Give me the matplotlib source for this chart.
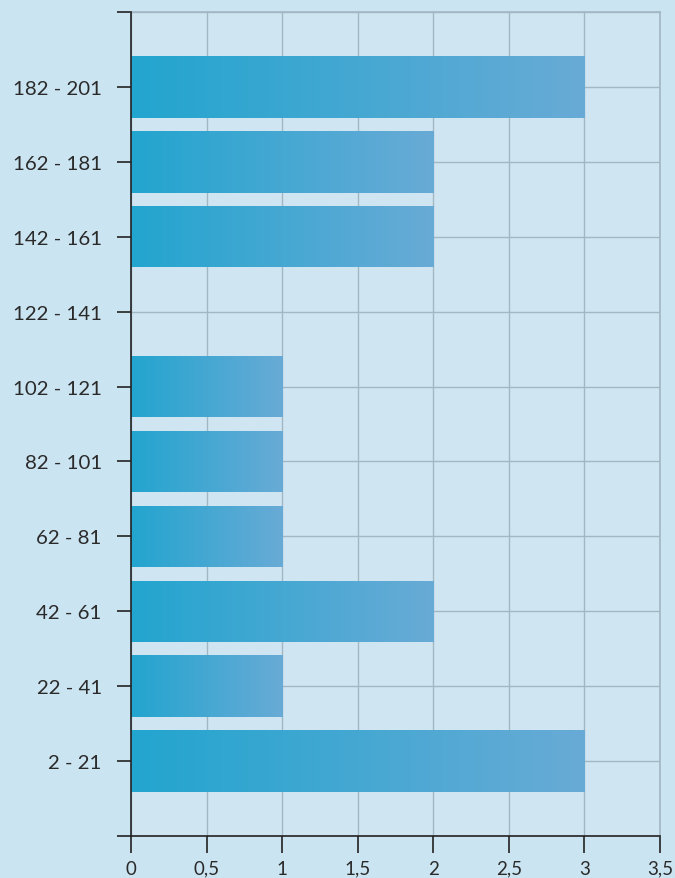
import matplotlib
matplotlib.use("Agg")
import matplotlib.pyplot as plt
import numpy as np
from matplotlib.colors import LinearSegmentedColormap

categories = ["2 - 21", "22 - 41", "42 - 61", "62 - 81", "82 - 101",
              "102 - 121", "122 - 141", "142 - 161", "162 - 181", "182 - 201"]
values = [3, 1, 2, 1, 1, 1, 0, 2, 2, 3]
xticks = [0, 0.5, 1, 1.5, 2, 2.5, 3, 3.5]
xticklabels = ["0", "0,5", "1", "1,5", "2", "2,5", "3", "3,5"]

plt.rcParams['font.family'] = ['Lato', 'DejaVu Sans']

fig = plt.figure(figsize=(6.75, 8.79), dpi=100)
fig.patch.set_facecolor('#cbe4f1')
W, H = 675, 879
ax = fig.add_axes([131 / W, (H - 837) / H, (660 - 131) / W, (837 - 13) / H])
ax.set_facecolor('#cfe6f2')

cmap = LinearSegmentedColormap.from_list('g', ['#22a5cf', '#68abd6'])
grad = np.linspace(0, 1, 256).reshape(1, -1)
ypos = np.arange(len(categories))
bars = ax.barh(ypos, values, height=0.82, color='#44a8d2', zorder=2)
for b, v in zip(bars, values):
    if v <= 0:
        continue
    im = ax.imshow(grad, cmap=cmap, aspect='auto', zorder=3,
                   extent=[b.get_x(), b.get_x() + b.get_width(),
                           b.get_y(), b.get_y() + b.get_height()],
                   interpolation='bicubic')
    im.set_clip_path(b)

ax.set_xlim(0, 3.5)
ax.set_ylim(-1, 10)
ax.set_xticks(xticks)
ax.set_xticklabels(xticklabels)
ax.set_yticks(range(-1, 11))
ax.set_yticklabels([''] + categories + [''])

ax.grid(True, color='#a3b7c3', linewidth=1.0, zorder=0)
ax.set_axisbelow(True)
for s in ['top', 'right']:
    ax.spines[s].set_color('#a3b7c3')
    ax.spines[s].set_linewidth(1.2)
for s in ['left', 'bottom']:
    ax.spines[s].set_color('#222222')
    ax.spines[s].set_linewidth(1.2)
    ax.spines[s].set_zorder(5)

ax.tick_params(axis='x', direction='out', length=12, width=1.2, color='#222222',
               labelsize=13.5, labelcolor='#2a2a2a', pad=5)
ax.tick_params(axis='y', direction='out', length=10, width=1.2, color='#222222',
               labelsize=14.7, labelcolor='#2a2a2a', pad=11)

fig.savefig('out.png', dpi=100, facecolor=fig.get_facecolor())
